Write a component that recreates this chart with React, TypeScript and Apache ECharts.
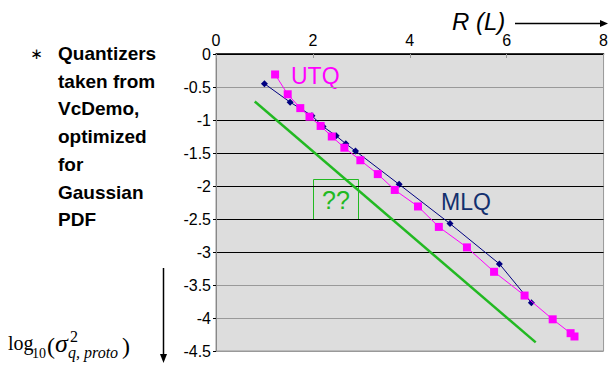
import React, { useEffect, useRef } from "react";
import * as echarts from "echarts";

const xTicks = [0, 2, 4, 6, 8];
const utqR = [1.22, 1.48, 1.74, 1.93, 2.16, 2.39, 2.65, 2.98, 3.34, 3.69, 4.17, 4.6, 5.18, 5.74, 6.37, 6.95, 7.32, 7.4];
const utqD = [-0.31, -0.61, -0.82, -0.95, -1.09, -1.25, -1.42, -1.61, -1.82, -2.06, -2.31, -2.62, -2.93, -3.3, -3.66, -4.02, -4.23, -4.28];
const mlqR = [1.0, 1.53, 1.98, 2.21, 2.48, 2.68, 2.88, 3.78, 4.83, 5.85, 6.51];
const mlqD = [-0.45, -0.73, -0.935, -1.1, -1.24, -1.36, -1.47, -1.975, -2.57, -3.18, -3.77];
const boundR = [0.8, 6.6];
const boundD = [-0.72, -4.37];
const noteLines = ["Quantizers", "taken from", "VcDemo,", "optimized", "for", "Gaussian", "PDF"];

const zip = (a: number[], b: number[]) => a.map((v, i) => [v, b[i]]);

export default function App() {
  const ref = useRef<HTMLDivElement>(null);
  useEffect(() => {
    if (!ref.current) return;
    const chart = echarts.init(ref.current, null, { renderer: "svg" });
    const sans = "Liberation Sans, Arial, sans-serif";
    const serif = "Liberation Serif, Times New Roman, serif";
    const green = "#22b922";
    const graphic: any[] = [];
    noteLines.forEach((t, i) => {
      graphic.push({
        type: "text",
        left: 58,
        top: 44 + i * 27.7,
        style: { text: t, font: `bold 19px ${sans}`, fill: "#000" },
      });
    });
    graphic.push({ type: "text", x: 36.5, y: 54, style: { text: "\u2217", font: `15px DejaVu Sans, sans-serif`, fill: "#000", align: "center", verticalAlign: "middle" } });
    // R (L) arrow
    graphic.push({ type: "text", x: 452, y: 21, style: { text: "R (L)", font: `italic 24px ${sans}`, fill: "#000", verticalAlign: "middle" } });
    graphic.push({ type: "line", shape: { x1: 515, y1: 23.5, x2: 601, y2: 23.5 }, style: { stroke: "#000", lineWidth: 1.5 } });
    graphic.push({ type: "polygon", shape: { points: [[600, 20], [608, 23.5], [600, 27]] }, style: { fill: "#000" } });
    // vertical arrow
    graphic.push({ type: "line", shape: { x1: 163.5, y1: 268, x2: 163.5, y2: 355 }, style: { stroke: "#000", lineWidth: 1.5 } });
    graphic.push({ type: "polygon", shape: { points: [[160, 354], [163.5, 363], [167, 354]] }, style: { fill: "#000" } });
    // log10(sigma^2_{q,proto})
    const mid = "middle";
    graphic.push({ type: "text", x: 8, y: 342.5, style: { text: "log", font: `20px ${serif}`, fill: "#000", verticalAlign: mid } });
    graphic.push({ type: "text", x: 32, y: 353, style: { text: "10", font: `14px ${serif}`, fill: "#000", verticalAlign: mid } });
    graphic.push({ type: "text", x: 47, y: 345.5, style: { text: "(", font: `24px ${serif}`, fill: "#000", verticalAlign: mid } });
    graphic.push({ type: "text", x: 55, y: 343, style: { text: "\u03c3", font: `italic 26px ${serif}`, fill: "#000", verticalAlign: mid } });
    graphic.push({ type: "text", x: 70, y: 336.5, style: { text: "2", font: `16px ${serif}`, fill: "#000", verticalAlign: mid } });
    graphic.push({ type: "text", x: 68, y: 352, style: { text: "q, proto", font: `italic 16px ${serif}`, fill: "#000", verticalAlign: mid } });
    graphic.push({ type: "text", x: 122, y: 345.5, style: { text: ")", font: `24px ${serif}`, fill: "#000", verticalAlign: mid } });
    // series labels
    graphic.push({ type: "text", left: 291, top: 64, style: { text: "UTQ", font: `23px ${sans}`, fill: "#ff00ff" } });
    graphic.push({ type: "text", left: 441, top: 190, style: { text: "MLQ", font: `23px ${sans}`, fill: "#13306e" } });
    // ?? box
    graphic.push({ type: "rect", shape: { x: 313.5, y: 179.5, width: 45, height: 40 }, style: { fill: "none", stroke: green, lineWidth: 1 } });
    graphic.push({ type: "text", x: 336, y: 200, style: { text: "??", font: `25px ${sans}`, fill: green, align: "center", verticalAlign: "middle" } });

    chart.setOption({
      animation: false,
      grid: {
        show: true,
        left: 216,
        top: 54,
        right: 6,
        bottom: 14,
        backgroundColor: "#dddddd",
        borderColor: "#999",
        borderWidth: 1,
      },
      xAxis: {
        type: "value",
        position: "top",
        min: xTicks[0],
        max: xTicks[xTicks.length - 1],
        interval: 2,
        axisLine: { show: true, onZero: false, lineStyle: { color: "#000", width: 1.5 } },
        axisTick: { show: true, inside: true, length: 4, lineStyle: { color: "#999" } },
        axisLabel: { color: "#000", fontSize: 16, fontFamily: sans, margin: 6 },
        splitLine: { show: false },
      },
      yAxis: {
        type: "value",
        min: -4.5,
        max: 0,
        interval: 0.5,
        axisLine: { show: true, onZero: false, lineStyle: { color: "#888", width: 1 } },
        axisTick: { show: true, length: 3, lineStyle: { color: "#000" } },
        axisLabel: { color: "#000", fontSize: 16, fontFamily: sans, margin: 5, padding: [6, 0, 0, 0] },
        splitLine: {
          show: true,
          lineStyle: {
            width: 1,
            color: ["#999", "#999", "#999", "#000", "#000", "#000", "#000", "#000", "#999", "#000"],
          },
        },
      },
      series: [
        {
          name: "bound",
          type: "line",
          data: zip(boundR, boundD),
          showSymbol: false,
          symbol: "none",
          lineStyle: { color: green, width: 2.5 },
          z: 2,
        },
        {
          name: "MLQ",
          type: "line",
          data: zip(mlqR, mlqD),
          symbol: "diamond",
          symbolSize: 7,
          itemStyle: { color: "#000080" },
          lineStyle: { color: "#000080", width: 1 },
          z: 3,
        },
        {
          name: "UTQ",
          type: "line",
          data: zip(utqR, utqD),
          symbol: "rect",
          symbolSize: 8,
          itemStyle: { color: "#ff00ff" },
          lineStyle: { color: "#ff00ff", width: 1 },
          z: 4,
        },
      ],
      graphic,
    });
    return () => chart.dispose();
  }, []);
  return <div ref={ref} style={{ position: "fixed", left: 0, top: 0, width: 611, height: 365, background: "#fff" }} />;
}
